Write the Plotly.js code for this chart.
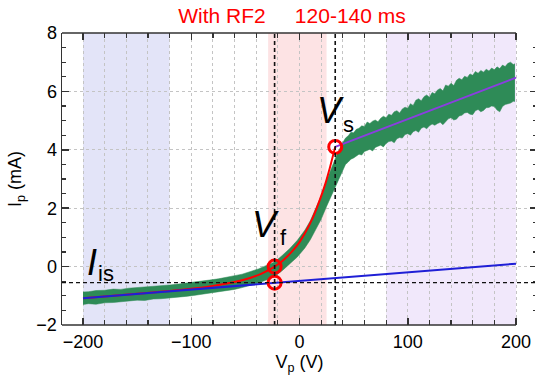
<!DOCTYPE html>
<html>
<head>
<meta charset="utf-8">
<script src="https://cdn.plot.ly/plotly-3.0.1.min.js"></script>
<style>
  html, body { margin: 0; padding: 0; overflow: hidden; background: #fff; }
  #chart { width: 540px; height: 380px; }
</style>
</head>
<body>
<div id="chart"></div>
<script>
// ---- data ----
const bandV = [-200,-195,-188,-180,-172,-165,-158,-150,-143,-135,-128,-120,-112,-105,-98,-90,-83,-75,-68,-60,-53,-45,-38,-30,-23,-16,-9,-2,5,10,15,20,25,30,35,
  40,42.5,45,47.5,50,52.5,55,57.5,60,62.5,65,67.5,70,72.5,75,77.5,80,82.5,85,87.5,90,92.5,95,97.5,100,102.5,105,107.5,110,112.5,115,117.5,120,122.5,125,127.5,130,132.5,135,137.5,140,142.5,145,147.5,150,152.5,155,157.5,160,162.5,165,167.5,170,172.5,175,177.5,180,182.5,185,187.5,190,192.5,195,197.5,199];
const bandUpper = [-0.87,-0.86,-0.82,-0.81,-0.77,-0.78,-0.74,-0.72,-0.71,-0.67,-0.66,-0.63,-0.60,-0.57,-0.55,-0.50,-0.46,-0.42,-0.38,-0.31,-0.26,-0.17,-0.08,0.05,0.16,0.38,0.62,0.90,1.25,1.57,1.97,2.42,2.95,3.42,3.88,
  4.25,4.40,4.48,4.60,4.58,4.70,4.74,4.82,4.80,4.95,4.90,4.98,5.02,4.96,5.08,5.15,5.10,5.22,5.18,5.30,5.34,5.26,5.40,5.46,5.42,5.58,5.52,5.70,5.75,5.68,5.82,5.88,5.80,5.96,5.92,6.05,6.10,6.02,6.22,6.18,6.28,6.20,6.38,6.45,6.40,6.52,6.48,6.60,6.55,6.68,6.62,6.72,6.66,6.76,6.70,6.80,6.74,6.84,6.78,6.90,6.85,6.96,7.00,6.92,6.95];
const bandLower = [-1.30,-1.27,-1.29,-1.24,-1.23,-1.20,-1.19,-1.15,-1.16,-1.11,-1.10,-1.08,-1.05,-1.02,-0.99,-0.95,-0.92,-0.87,-0.83,-0.78,-0.72,-0.64,-0.56,-0.45,-0.34,-0.14,0.08,0.33,0.64,0.92,1.27,1.62,2.06,2.48,2.92,
  3.35,3.50,3.58,3.68,3.72,3.80,3.85,3.82,3.94,3.98,4.02,3.96,4.08,4.12,4.16,4.10,4.22,4.28,4.30,4.24,4.38,4.42,4.40,4.52,4.55,4.50,4.62,4.66,4.60,4.74,4.78,4.72,4.82,4.88,4.84,4.90,4.94,4.86,4.98,5.06,5.10,5.02,5.05,5.16,5.18,5.26,5.28,5.22,5.20,5.34,5.38,5.30,5.35,5.44,5.45,5.50,5.48,5.36,5.30,5.48,5.55,5.58,5.60,5.66,5.65];

const expFitV = [-200,-150,-100,-80,-60,-45,-35,-23,-15,-5,0,5,12,18,24,28,33];
const expFitI = [-1.08,-0.93,-0.755,-0.66,-0.53,-0.38,-0.24,0.0,0.22,0.60,0.84,1.14,1.65,2.21,2.85,3.38,4.10];

const ionFitV = [-200, 200];
const ionFitI = [-1.08, 0.10];

const elecFitV = [33, 200];
const elecFitI = [4.10, 6.47];

const pointV = [-23, -23, 33];
const pointI = [0.0, -0.55, 4.10];

const Vf = -23, Vs = 33, Iis = -0.55;
const blueRegion = [-200, -120];
const pinkRegion = [-29, 25];
const purpleRegion = [80, 200];

const titleText = 'With RF2\u00A0\u00A0\u00A0\u00A0\u00A0120-140 ms';
const xTickVals = [-200, -100, 0, 100, 200];
const yTickVals = [-2, 0, 2, 4, 6, 8];

// ---- chart ----
const xRange = [-219.4, 219.4];
const FONT = 'Liberation Sans, Arial, sans-serif';
const frameColor = '#333333';
const frameEnd = (200 - xRange[0]) / (xRange[1] - xRange[0]);

const traces = [
  { x: bandV, y: bandLower, mode: 'lines', line: { width: 0.5, color: '#2e8b57' }, hoverinfo: 'skip', showlegend: false },
  { x: bandV, y: bandUpper, mode: 'lines', fill: 'tonexty', fillcolor: '#2e8b57', line: { width: 0.5, color: '#2e8b57' }, hoverinfo: 'skip', showlegend: false },
  { x: expFitV, y: expFitI, mode: 'lines', line: { color: '#ff0000', width: 2, shape: 'spline' }, showlegend: false },
  { x: ionFitV, y: ionFitI, mode: 'lines', line: { color: '#1f1fd6', width: 2 }, showlegend: false },
  { x: elecFitV, y: elecFitI, mode: 'lines', line: { color: '#8a3ee0', width: 2 }, showlegend: false },
  { x: pointV, y: pointI, mode: 'markers', marker: { symbol: 'circle-open', size: 13, color: '#ff0000', line: { width: 3, color: '#ff0000' } }, showlegend: false }
];

function rect(r, color) {
  return { type: 'rect', xref: 'x', yref: 'paper', x0: r[0], x1: r[1], y0: 0, y1: 1, fillcolor: color, line: { width: 0 }, layer: 'below' };
}

const shapes = [
  rect(blueRegion, '#e3e4f8'),
  rect(pinkRegion, '#fde3e4'),
  rect(purpleRegion, '#f1e8fb'),
  { type: 'line', xref: 'x', yref: 'paper', x0: Vf, x1: Vf, y0: 0, y1: 1, line: { color: '#111', width: 1.6, dash: '4px,3px' }, layer: 'above' },
  { type: 'line', xref: 'x', yref: 'paper', x0: Vs, x1: Vs, y0: 0, y1: 1, line: { color: '#111', width: 1.6, dash: '4px,3px' }, layer: 'above' },
  { type: 'line', xref: 'paper', yref: 'y', x0: 0, x1: 1, y0: Iis, y1: Iis, line: { color: '#111', width: 1.4, dash: '4px,3px' }, layer: 'above' },
  { type: 'line', xref: 'paper', yref: 'paper', x0: 0, x1: frameEnd, y0: 0, y1: 0, line: { color: frameColor, width: 1.5 }, layer: 'above' },
  { type: 'line', xref: 'paper', yref: 'paper', x0: 0, x1: frameEnd, y0: 1, y1: 1, line: { color: frameColor, width: 1.5 }, layer: 'above' }
];

const bigFont = { family: FONT, size: 36, color: '#000' };
const subFont = { family: FONT, size: 22, color: '#000' };
const annotations = [
  { x: -31, y: 1.43, text: '<i>V</i>', font: bigFont, showarrow: false, xanchor: 'center', yanchor: 'middle' },
  { x: -15, y: 0.98, text: 'f', font: subFont, showarrow: false, xanchor: 'center', yanchor: 'middle' },
  { x: 29, y: 5.34, text: '<i>V</i>', font: bigFont, showarrow: false, xanchor: 'center', yanchor: 'middle' },
  { x: 45, y: 4.86, text: 's', font: subFont, showarrow: false, xanchor: 'center', yanchor: 'middle' },
  { x: -191.5, y: 0.13, text: '<i>I</i>', font: bigFont, showarrow: false, xanchor: 'center', yanchor: 'middle' },
  { x: -178.5, y: -0.22, text: 'is', font: subFont, showarrow: false, xanchor: 'center', yanchor: 'middle' }
];

const layout = {
  width: 540, height: 380,
  margin: { l: 62, r: 3, t: 33, b: 55 },
  paper_bgcolor: '#ffffff', plot_bgcolor: '#ffffff',
  font: { family: FONT, size: 18, color: '#000' },
  title: { text: titleText, font: { family: FONT, size: 21, color: '#ff0000' }, x: 0.5407, xref: 'container', xanchor: 'center', y: 0.958, yref: 'container', yanchor: 'middle' },
  showlegend: false,
  xaxis: {
    range: xRange, autorange: false,
    tickmode: 'array', tickvals: xTickVals,
    ticks: 'inside', ticklen: 7, tickwidth: 1.5, tickcolor: frameColor,
    showline: true, linecolor: 'rgba(0,0,0,0)', linewidth: 1.5, mirror: 'ticks',
    showgrid: true, gridcolor: '#c4c4c4', griddash: '3px,3px', gridwidth: 1,
    zeroline: false,
    minor: { dtick: 20, tick0: 0, ticks: 'inside', ticklen: 5, tickwidth: 1.2, tickcolor: frameColor, showgrid: true, gridcolor: '#c4c4c4', griddash: '3px,3px', gridwidth: 1 },
    tickfont: { family: FONT, size: 18, color: '#000' },
    title: { text: 'V<sub>p</sub> (V)', font: { family: FONT, size: 18, color: '#000' }, standoff: 4 },
    automargin: false
  },
  yaxis: {
    range: [-2, 8], autorange: false,
    tickmode: 'array', tickvals: yTickVals,
    ticks: 'inside', ticklen: 7, tickwidth: 1.5, tickcolor: frameColor,
    showline: true, linecolor: frameColor, linewidth: 1.5, mirror: 'ticks',
    showgrid: true, gridcolor: '#c4c4c4', griddash: '3px,3px', gridwidth: 1,
    zeroline: false,
    minor: { dtick: 0.5, tick0: 0, ticks: 'inside', ticklen: 4, tickwidth: 1.2, tickcolor: frameColor, showgrid: false },
    tickfont: { family: FONT, size: 18, color: '#000' },
    title: { text: 'I<sub>p</sub> (mA)', font: { family: FONT, size: 18, color: '#000' }, standoff: 10 },
    automargin: false
  },
  shapes: shapes,
  annotations: annotations
};

Plotly.newPlot('chart', traces, layout, { displayModeBar: false, staticPlot: true });
</script>
</body>
</html>
